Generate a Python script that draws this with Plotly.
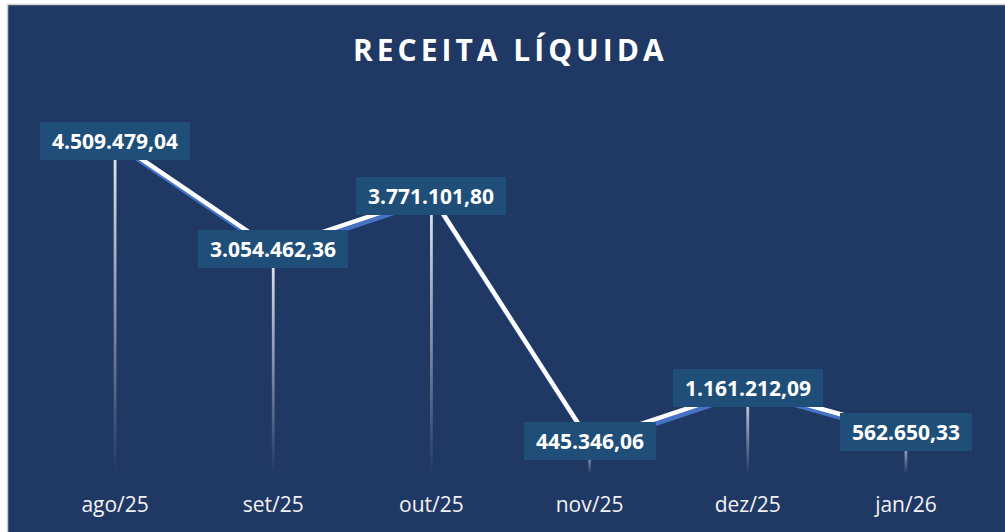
import plotly.graph_objects as go

months = ["ago/25", "set/25", "out/25", "nov/25", "dez/25", "jan/26"]
receita = [4509479.04, 3054462.36, 3771101.80, 445346.06, 1161212.09, 562650.33]
labels = ["4.509.479,04", "3.054.462,36", "3.771.101,80", "445.346,06", "1.161.212,09", "562.650,33"]

W, H = 1005, 532
SDX, SDY = 2, 4  # shadow offset in px
L, R, T = 36, 18, 105
B = H - 474 - SDY
PW, PH = W - L - R, H - T - B

NAVY = "#203864"
BOX = "#1F4E79"
SHADOW = "#4472C4"
FONT = "Open Sans"


def fx(px):
    return (px - L) / PW


def fy(py):
    return (H - B - py) / PH


dx = SDX / PW
dy = SDY / PH
xpos = list(range(len(months)))
xrange_ = [-0.5, len(months) - 0.5]
yrange = [0, 5e6]
unit_px = PW * (1 - dx) / len(months)
half = 1.4 / unit_px  # half width of drop lines, in category units

fig = go.Figure()

# shadow of the main line, drawn on the lower/right offset subplot
fig.add_trace(go.Scatter(
    x=xpos, y=receita, mode="lines",
    line=dict(color=SHADOW, width=4.5),
    xaxis="x", yaxis="y", hoverinfo="skip", showlegend=False,
))

# drop lines, white fading to transparent towards the axis
for i, v in zip(xpos, receita):
    fig.add_trace(go.Scatter(
        x=[i - half, i + half], y=[v, v], mode="none",
        fill="tozeroy",
        fillgradient=dict(
            type="vertical", start=0, stop=v,
            colorscale=[[0, "rgba(235,238,245,0)"], [1, "rgba(240,242,248,0.97)"]],
        ),
        xaxis="x2", yaxis="y2", hoverinfo="skip", showlegend=False,
    ))

fig.add_trace(go.Scatter(
    x=xpos, y=receita, mode="lines",
    line=dict(color="white", width=4.5),
    xaxis="x2", yaxis="y2", showlegend=False,
))


def box_width(s):
    digits = sum(c.isdigit() for c in s)
    return digits * 12 + (len(s) - digits) * 6 + 24


for i, v, s in zip(xpos, receita, labels):
    fig.add_annotation(
        x=i, y=v, xref="x2", yref="y2", text=s, showarrow=False,
        font=dict(family=FONT, size=21, color="white", weight="bold"),
        bgcolor=BOX, borderwidth=0, borderpad=0,
        width=box_width(s), height=38,
        xanchor="center", yanchor="middle",
    )

fig.add_annotation(
    xref="paper", yref="paper", x=fx(510), y=fy(50),
    text='<span style="letter-spacing:4px">RECEITA LÍQUIDA</span>',
    showarrow=False,
    font=dict(family=FONT, size=30, color="white", weight="bold"),
    xanchor="center", yanchor="middle",
)

# chart area with light border
fig.add_shape(
    type="rect", xref="paper", yref="paper", layer="below",
    x0=fx(7.5), x1=fx(W + 10), y0=fy(H + 10), y1=fy(4.5),
    fillcolor=NAVY, line=dict(color="#D0D0D0", width=1.5),
)

fig.update_layout(
    width=W, height=H,
    margin=dict(l=L, r=R, t=T, b=B),
    paper_bgcolor="white",
    plot_bgcolor="rgba(0,0,0,0)",
    xaxis=dict(
        domain=[dx, 1], range=xrange_, anchor="y",
        visible=False, fixedrange=True,
    ),
    yaxis=dict(
        domain=[0, 1 - dy], range=yrange, anchor="x",
        visible=False, fixedrange=True,
    ),
    xaxis2=dict(
        domain=[0, 1 - dx], range=xrange_, anchor="y2",
        tickmode="array", tickvals=xpos, ticktext=months,
        showgrid=False, zeroline=False, showline=False, ticks="",
        tickfont=dict(family=FONT, size=21, color="#F2F2F2"),
        ticklabelstandoff=16, fixedrange=True,
    ),
    yaxis2=dict(
        domain=[dy, 1], range=yrange, anchor="x2",
        visible=False, fixedrange=True,
    ),
)

# drop the default page margin so the chart fills the window
fig.write_html(
    "out.html",
    config={"displayModeBar": False},
    post_script="document.body.style.margin='0';document.body.style.overflow='hidden';",
)
